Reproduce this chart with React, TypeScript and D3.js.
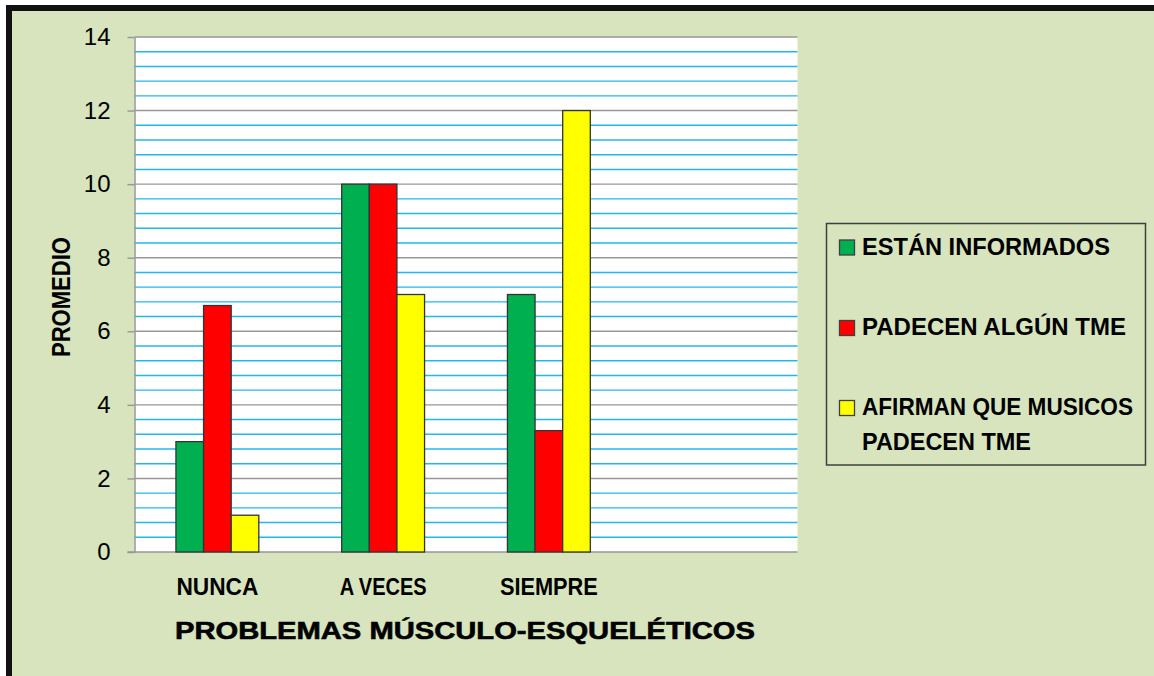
import * as d3 from 'd3';
import { useEffect, useRef } from 'react';

const categories = ['NUNCA', 'A VECES', 'SIEMPRE', ''];
const seriesNames = ['ESTÁN INFORMADOS', 'PADECEN ALGÚN TME', 'AFIRMAN QUE MUSICOS PADECEN TME'];
const seriesColors = ['#00b050', '#ff0000', '#ffff00'];
const informados = [3, 10, 7];
const padecen = [6.7, 10, 3.3];
const afirman = [1, 7, 12];
const yTicks = [0, 2, 4, 6, 8, 10, 12, 14];

// legend text as it wraps in the original
const legendLines = [['ESTÁN INFORMADOS'], ['PADECEN ALGÚN TME'], ['AFIRMAN QUE MUSICOS', 'PADECEN TME']];

const W = 1154, H = 676;
const FONT = '"Liberation Sans", Arial, sans-serif';
// rendered widths of the narrow bold labels in the original
const catWidth = [82, 87, 98];
const legendWidth = [[248], [264], [271, 169]];

function App() {
  const ref = useRef<SVGSVGElement>(null);

  useEffect(() => {
    const values = [informados, padecen, afirman];
    const margin = { top: 37, right: W - 797.5, bottom: H - 552, left: 134.5 };

    const svg = d3.select(ref.current);
    svg.selectAll('*').remove();

    // outer background + black frame (only top/left visible)
    svg.append('rect').attr('width', W).attr('height', H).attr('fill', '#ffffff');
    svg.append('rect').attr('x', 6).attr('y', 5).attr('width', W).attr('height', H)
      .attr('fill', '#111111');
    svg.append('rect').attr('x', 12).attr('y', 11).attr('width', W).attr('height', H)
      .attr('fill', '#d7e4bd');

    var x0 = d3.scaleBand<string>()
      .domain(categories)
      .range([margin.left, W - margin.right])
      .padding(0);

    var x1 = d3.scaleBand<number>()
      .domain([0, 1, 2])
      .range([x0.bandwidth() * 0.25, x0.bandwidth() * 0.75])
      .padding(0);

    var y = d3.scaleLinear()
      .domain([0, 14])
      .range([H - margin.bottom, margin.top]);

    // plot area
    svg.append('rect')
      .attr('x', margin.left).attr('y', margin.top)
      .attr('width', W - margin.right - margin.left)
      .attr('height', H - margin.bottom - margin.top)
      .attr('fill', '#ffffff');

    // minor gridlines every 0.4
    const minor = d3.range(1, 35).map(i => i * 0.4).filter(v => Math.abs(v / 2 - Math.round(v / 2)) > 0.01);
    svg.append('g').selectAll('line')
      .data(minor)
      .enter().append('line')
      .attr('x1', margin.left).attr('x2', W - margin.right)
      .attr('y1', d => y(d)).attr('y2', d => y(d))
      .attr('stroke', '#22b7ec').attr('stroke-width', 1.4);

    // major gridlines
    svg.append('g').selectAll('line')
      .data(yTicks.slice(1))
      .enter().append('line')
      .attr('x1', margin.left).attr('x2', W - margin.right)
      .attr('y1', d => y(d)).attr('y2', d => y(d))
      .attr('stroke', '#979797').attr('stroke-width', 1.4);

    // y axis
    const yAxis = svg.append('g')
      .attr('transform', 'translate(' + margin.left + ',0)')
      .call(d3.axisLeft(y).tickValues(yTicks).tickSize(7).tickPadding(17).tickSizeOuter(0));
    yAxis.select('.domain').attr('stroke', '#979797').attr('stroke-width', 1.5);
    yAxis.selectAll('.tick line').attr('stroke', '#979797').attr('stroke-width', 1.4);
    yAxis.selectAll('.tick text')
      .attr('font-family', FONT).attr('font-size', 24).attr('fill', '#000');

    // x axis line
    svg.append('line')
      .attr('x1', margin.left - 7).attr('x2', W - margin.right)
      .attr('y1', y(0)).attr('y2', y(0))
      .attr('stroke', '#979797').attr('stroke-width', 1.6);

    // bars
    const groups = svg.selectAll('.grp')
      .data(categories.slice(0, 3))
      .enter().append('g')
      .attr('class', 'grp')
      .attr('transform', d => 'translate(' + x0(d) + ',0)');

    groups.selectAll('rect')
      .data((d, i) => values.map((s, k) => ({ k, v: s[i] })))
      .enter().append('rect')
      .attr('x', d => x1(d.k) as number)
      .attr('y', d => y(d.v))
      .attr('width', x1.bandwidth())
      .attr('height', d => y(0) - y(d.v))
      .attr('fill', d => seriesColors[d.k])
      .attr('stroke', '#333333')
      .attr('stroke-width', 1.3);

    // category labels
    svg.append('g').selectAll('text')
      .data(categories.slice(0, 3))
      .enter().append('text')
      .attr('x', d => (x0(d) as number) + x0.bandwidth() / 2)
      .attr('y', 595)
      .attr('text-anchor', 'middle')
      .attr('font-family', FONT).attr('font-weight', 'bold').attr('font-size', 24)
      .attr('textLength', (d, i) => catWidth[i]).attr('lengthAdjust', 'spacingAndGlyphs')
      .text(d => d);

    // axis titles
    svg.append('text')
      .attr('x', 175).attr('y', 638.5)
      .attr('font-family', FONT).attr('font-weight', 'bold').attr('font-size', 24)
      .attr('stroke', '#000').attr('stroke-width', 0.6)
      .attr('textLength', 580).attr('lengthAdjust', 'spacingAndGlyphs')
      .text('PROBLEMAS MÚSCULO-ESQUELÉTICOS');

    svg.append('text')
      .attr('transform', 'translate(69.5,297) rotate(-90)')
      .attr('text-anchor', 'middle')
      .attr('font-family', FONT).attr('font-weight', 'bold').attr('font-size', 25)
      .attr('textLength', 120).attr('lengthAdjust', 'spacingAndGlyphs')
      .text('PROMEDIO');

    // legend
    const lg = svg.append('g');
    lg.append('rect')
      .attr('x', 826.5).attr('y', 223.5).attr('width', 319).attr('height', 241.5)
      .attr('fill', 'none').attr('stroke', '#3f3f3f').attr('stroke-width', 1.5);

    const itemY = [240, 320.5, 400.5];
    seriesNames.forEach((name, i) => {
      lg.append('rect')
        .attr('x', 839.5).attr('y', itemY[i])
        .attr('width', 15).attr('height', 15)
        .attr('fill', seriesColors[i]).attr('stroke', '#3f3f3f').attr('stroke-width', 1.3);
      legendLines[i].forEach((line, j) => {
        lg.append('text')
          .attr('x', 862).attr('y', itemY[i] + 14.5 + j * 35)
          .attr('font-family', FONT).attr('font-weight', 'bold').attr('font-size', 24)
          .attr('textLength', legendWidth[i][j]).attr('lengthAdjust', 'spacingAndGlyphs')
          .text(line);
      });
    });
  }, []);

  return (
    <svg ref={ref} width={W} height={H} style={{ position: 'absolute', left: 0, top: 0 }} />
  );
}

export default App;
